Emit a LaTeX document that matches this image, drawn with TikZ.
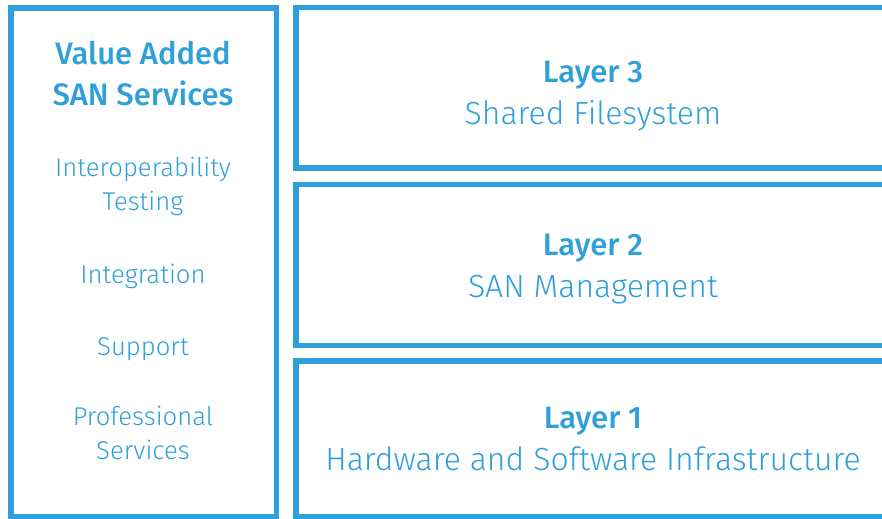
\documentclass[tikz,border=0pt]{standalone}
\usepackage{fontspec}
\setmainfont{Fira Sans}[UprightFont=* Light, BoldFont=* Medium]
\definecolor{sanblue}{RGB}{47,160,217}
\tikzset{
  panel/.style={draw=sanblue, line width=5.6bp},
  head/.style={text=sanblue, anchor=base, inner sep=0pt, font=\bfseries\fontsize{31bp}{31bp}\selectfont},
  item/.style={text=sanblue, anchor=base, inner sep=0pt, font=\fontsize{25.7bp}{26bp}\selectfont},
  big/.style={text=sanblue, anchor=base, inner sep=0pt, font=\fontsize{32bp}{32bp}\selectfont},
}
\begin{document}
\begin{tikzpicture}[x=1bp, y=-1bp]
  \useasboundingbox (0,0) rectangle (882,519);
  % left column: added services
  \draw[panel] (10.8,7.8) rectangle (276.6,516.8);
  % stacked layers, open to the right
  \draw[panel] (296,7.5) rectangle (900,168);
  \draw[panel] (296,184.7) rectangle (900,345.5);
  \draw[panel] (296,361.2) rectangle (900,516.6);

  \node[head] (va1) at (143,65) {Value Added};
  \node[head] (va2) at (143,106) {SAN Services};
  \node[item] (it1) at (143,177) {Interoperability};
  \node[item] (it2) at (143,211) {Testing};
  \node[item] (it3) at (143,284) {Integration};
  \node[item] (it4) at (143,355) {Support};
  \node[item] (it5) at (143,425) {Professional};
  \node[item] (it6) at (143,459) {Services};

  \node[head] (l3) at (593,83) {Layer 3};
  \node[big] (l3t) at (593,125) {Shared Filesystem};
  \node[head] (l2) at (593,256) {Layer 2};
  \node[big] (l2t) at (593,298) {SAN Management};
  \node[head] (l1) at (593,428) {Layer 1};
  \node[big] (l1t) at (593,470) {Hardware and Software Infrastructure};
\end{tikzpicture}
\end{document}
